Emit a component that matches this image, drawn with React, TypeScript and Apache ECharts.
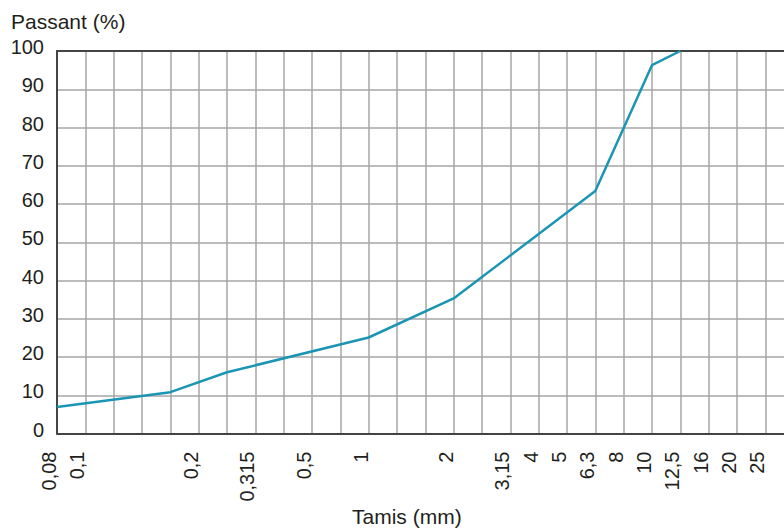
import React, { useEffect, useRef } from "react";
import * as echarts from "echarts";

// Sieve openings (mm), one per vertical grid column; blank = unlabelled column
const sieveLabels = [
  "0,08", "0,1", "", "", "", "0,2", "", "0,315", "", "0,5", "", "1", "", "",
  "2", "", "3,15", "4", "5", "6,3", "8", "10", "12,5", "16", "20", "25", "",
];
// Passing percentage per column (null = no measured point)
const passing: (number | null)[] = [
  6.9, null, null, null, 10.8, null, 16.0, null, null, null, null, 25.1, null, null,
  35.3, null, null, null, null, 63.4, null, 96.3, 100, null, null, null, null,
];
const yTicks = [0, 10, 20, 30, 40, 50, 60, 70, 80, 90, 100];

const FONT = "'Liberation Sans', Arial, Helvetica, sans-serif";
const TEXT = "#231f20";
const GRID = "#a6a6a6";
const AXIS = "#444444";

export default function App() {
  const ref = useRef<HTMLDivElement>(null);
  useEffect(() => {
    if (!ref.current) return;
    const chart = echarts.init(ref.current, null, { renderer: "svg" });
    chart.setOption({
      animation: false,
      backgroundColor: "#ffffff",
      title: [
        {
          text: "Passant (%)",
          left: 6,
          top: 6,
          textStyle: { fontSize: 21, fontWeight: "normal", color: TEXT, fontFamily: FONT },
        },
        {
          text: "Tamis (mm)",
          left: 347,
          top: 501,
          textStyle: { fontSize: 21, fontWeight: "normal", color: TEXT, fontFamily: FONT },
        },
      ],
      grid: { left: 57, top: 51, width: 736.6, height: 382.5, containLabel: false },
      xAxis: [
        {
          type: "category",
          data: sieveLabels,
          boundaryGap: false,
          axisLine: { show: true, lineStyle: { color: AXIS, width: 2 } },
          axisTick: { show: false },
          axisLabel: {
            interval: 0,
            rotate: 90,
            margin: 18,
            fontSize: 20,
            color: TEXT,
            fontFamily: FONT,
            verticalAlign: "bottom",
            lineHeight: 16,
          },
          splitLine: { show: true, interval: 0, lineStyle: { color: GRID, width: 1.5 } },
        },
        {
          type: "category",
          position: "top",
          data: sieveLabels,
          boundaryGap: false,
          axisLine: { show: true, lineStyle: { color: AXIS, width: 2 } },
          axisTick: { show: false },
          axisLabel: { show: false },
          splitLine: { show: false },
        },
      ],
      yAxis: {
        type: "value",
        min: yTicks[0],
        max: yTicks[yTicks.length - 1],
        interval: 10,
        axisLine: { show: true, lineStyle: { color: AXIS, width: 2 } },
        axisTick: { show: false },
        axisLabel: {
          margin: 13,
          fontSize: 20,
          color: TEXT,
          fontFamily: FONT,
          verticalAlign: "bottom",
          lineHeight: 8,
        },
        splitLine: { show: true, lineStyle: { color: GRID, width: 1.5 } },
      },
      series: [
        {
          type: "line",
          data: passing,
          connectNulls: true,
          symbol: "none",
          lineStyle: { color: "#1a95b3", width: 2.5 },
          z: 5,
        },
      ],
    });
    return () => chart.dispose();
  }, []);
  return (
    <div style={{ width: 784, height: 531, position: "absolute", left: 0, top: 0, overflow: "hidden" }}>
      <div ref={ref} style={{ width: 820, height: 531 }} />
    </div>
  );
}
